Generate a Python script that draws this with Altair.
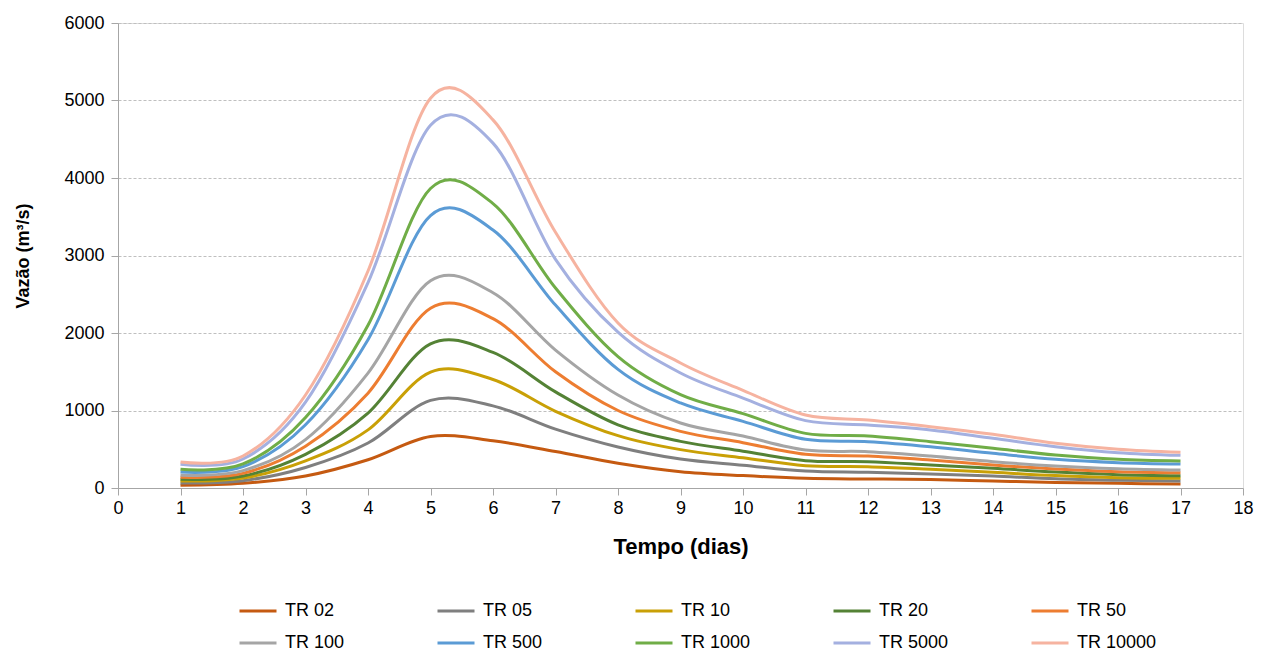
import altair as alt
import pandas as pd

days = list(range(1, 18))
series_names = ["TR 02", "TR 05", "TR 10", "TR 20", "TR 50",
                "TR 100", "TR 500", "TR 1000", "TR 5000", "TR 10000"]
colors = ["#C55A11", "#7F7F7F", "#C9A006", "#548235", "#ED7D31",
          "#A5A5A5", "#5B9BD5", "#70AD47", "#A4B0E0", "#F6B3A0"]

tr02 = [35, 60, 155, 365, 665, 610, 470, 320, 210, 160, 125, 116, 110, 90, 72, 60, 52]
tr05 = [65, 95, 265, 580, 1130, 1060, 760, 530, 374, 295, 219, 202, 181, 155, 118, 100, 90]
tr10 = [90, 129, 350, 750, 1495, 1400, 990, 675, 495, 390, 288, 275, 241, 203, 160, 133, 125]
tr20 = [112, 155, 435, 966, 1860, 1750, 1240, 815, 602, 475, 352, 340, 297, 254, 205, 172, 159]
tr50 = [138, 189, 540, 1224, 2320, 2185, 1500, 1000, 731, 585, 434, 413, 361, 297, 245, 211, 198]
tr100 = [163, 224, 625, 1483, 2675, 2520, 1780, 1200, 839, 670, 490, 469, 413, 340, 284, 249, 232]
tr500 = [206, 275, 816, 1914, 3515, 3330, 2360, 1530, 1097, 860, 628, 598, 533, 448, 370, 327, 310]
tr1000 = [241, 310, 909, 2100, 3865, 3670, 2580, 1695, 1204, 960, 705, 671, 598, 512, 426, 370, 348]
tr5000 = [305, 374, 1107, 2650, 4680, 4450, 2950, 2010, 1484, 1160, 869, 813, 748, 641, 533, 456, 421]
tr10000 = [335, 413, 1200, 2800, 5030, 4750, 3300, 2130, 1613, 1260, 942, 877, 791, 693, 576, 499, 460]

all_values = [tr02, tr05, tr10, tr20, tr50, tr100, tr500, tr1000, tr5000, tr10000]

rows = []
for idx, (name, vals) in enumerate(zip(series_names, all_values)):
    for d, v in zip(days, vals):
        rows.append({"Tempo": d, "Vazao": v, "Serie": name, "ordem": idx})
df = pd.DataFrame(rows)

FONT = "Liberation Sans"

chart = alt.Chart(df).mark_line(
    interpolate="cardinal", tension=0, strokeWidth=3
).encode(
    x=alt.X("Tempo:Q",
            scale=alt.Scale(domain=[0, 18], nice=False, zero=False),
            axis=alt.Axis(values=list(range(0, 19)), title="Tempo (dias)",
                          grid=False, tickSize=7, tickColor="#A6A6A6",
                          domainColor="#A6A6A6", labelPadding=4,
                          titlePadding=19, labelFontSize=18, titleFontSize=22,
                          labelFont=FONT, titleFont=FONT, titleFontWeight="bold",
                          labelColor="#000000", titleColor="#000000",
                          labelFlush=False, format="d")),
    y=alt.Y("Vazao:Q",
            scale=alt.Scale(domain=[0, 6000], nice=False),
            axis=alt.Axis(values=[0, 1000, 2000, 3000, 4000, 5000, 6000],
                          title="Vazão  (m³/s)", grid=True,
                          gridColor="#BFBFBF", gridDash=[3, 2], gridWidth=1,
                          tickSize=7, tickColor="#A6A6A6", domainColor="#A6A6A6",
                          labelPadding=7, titlePadding=31,
                          labelFontSize=18, titleFontSize=18,
                          labelFont=FONT, titleFont=FONT, titleFontWeight="bold",
                          labelColor="#000000", titleColor="#000000",
                          format="d")),
    color=alt.Color("Serie:N",
                    scale=alt.Scale(domain=series_names, range=colors),
                    legend=alt.Legend(title=None, orient="none",
                                      legendX=120, legendY=568,
                                      direction="horizontal", columns=5,
                                      gridAlign="all", columnPadding=66,
                                      rowPadding=3,
                                      symbolType="stroke", symbolSize=1369,
                                      symbolStrokeWidth=3, labelOffset=7,
                                      labelFontSize=18, labelFont=FONT,
                                      labelColor="#000000")),
    order=alt.Order("ordem:Q"),
    detail="Serie:N",
).properties(
    width=1125, height=465,
    padding={"left": 110, "top": 15, "right": 15, "bottom": 163},
    autosize="none",
).configure_view(stroke=None).configure(background="white")

chart.save("out.html", embed_options={"renderer": "svg", "actions": False})
